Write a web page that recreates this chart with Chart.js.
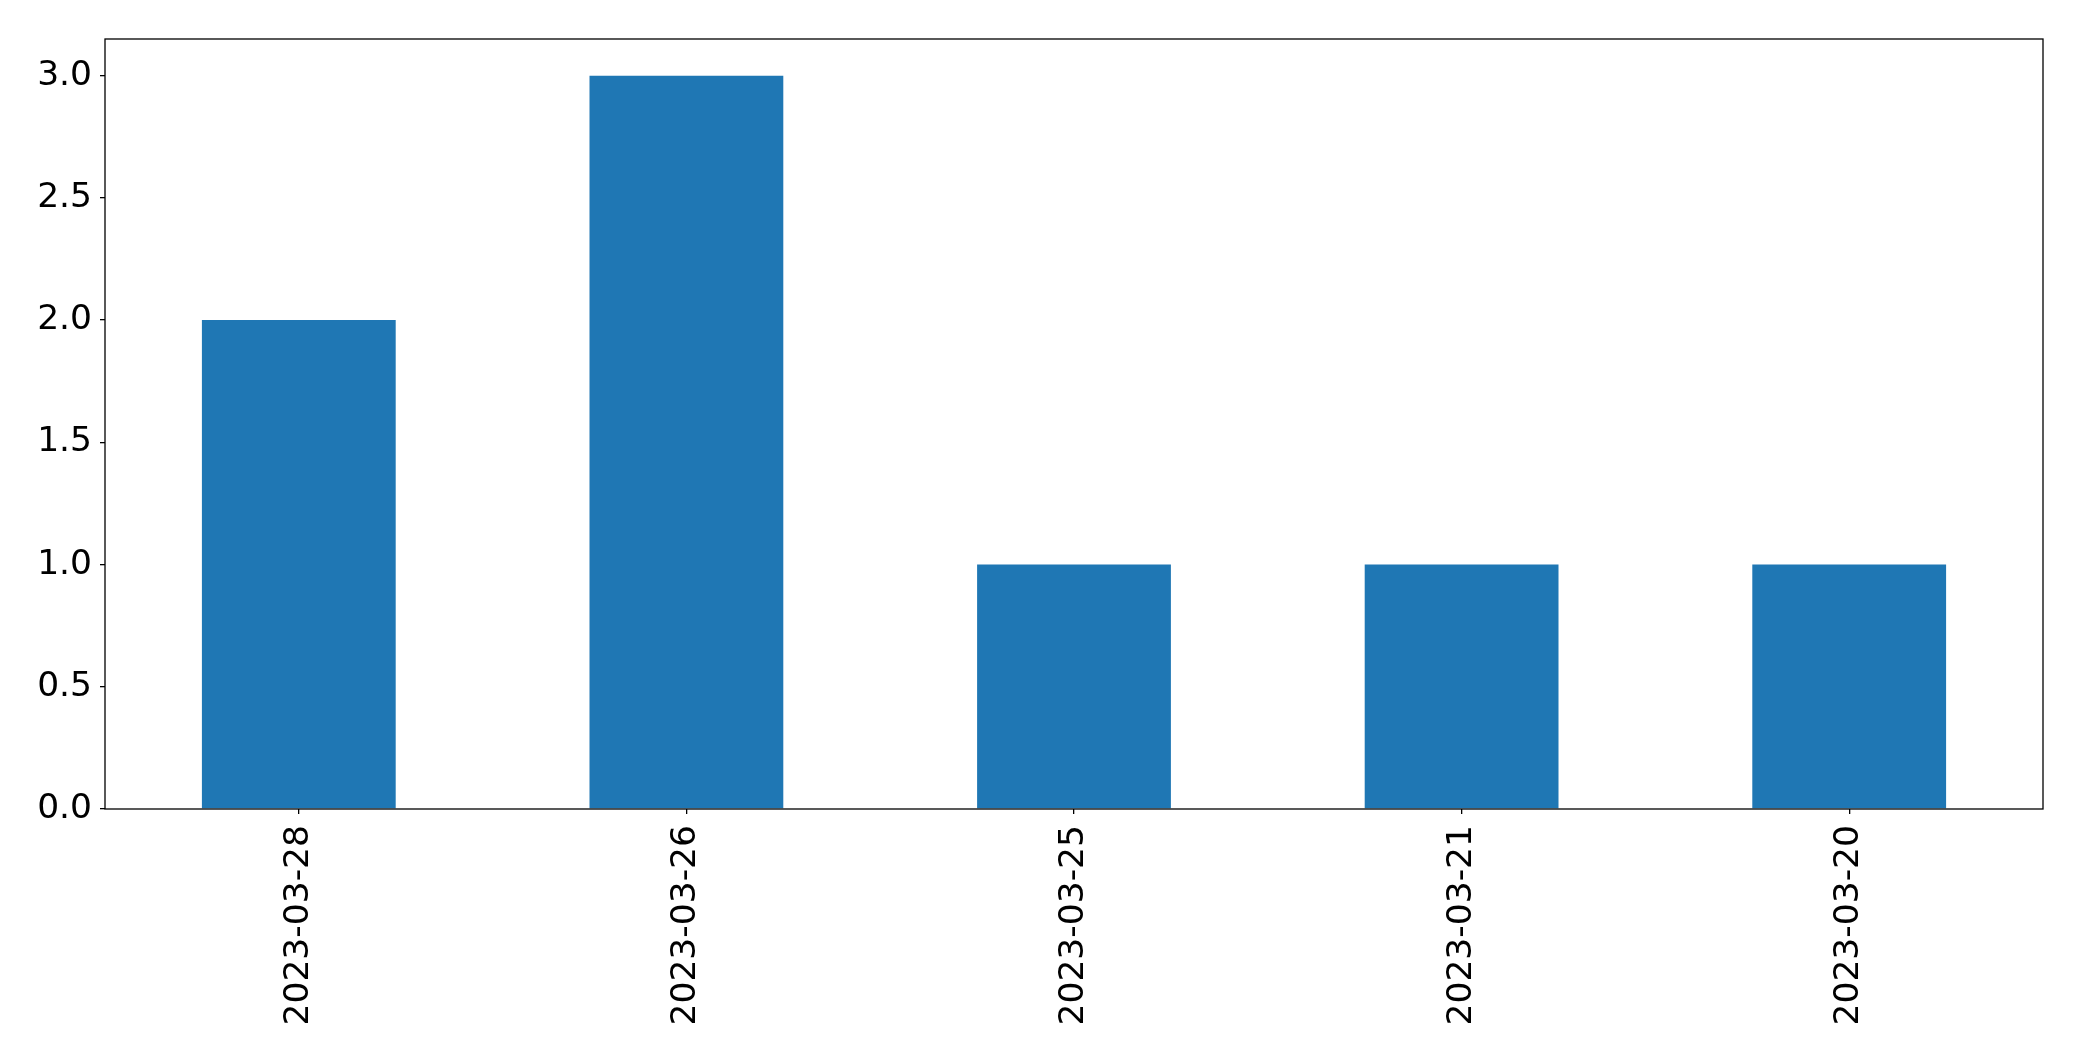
<!DOCTYPE html>
<html>
<head>
<meta charset="utf-8">
<script src="https://cdn.jsdelivr.net/npm/chart.js@4"></script>
<style>
  html, body { margin: 0; padding: 0; background: #fff; }
  #wrap { width: 2082px; height: 1061px; }
</style>
</head>
<body>
<div id="wrap"><canvas id="c" width="2082" height="1061"></canvas></div>
<script>
var categories = ['2023-03-28', '2023-03-26', '2023-03-25', '2023-03-21', '2023-03-20'];
var counts = [2, 3, 1, 1, 1];
var yTicks = [0, 0.5, 1.0, 1.5, 2.0, 2.5, 3.0];

var FONT = { family: 'DejaVu Sans', size: 34.5 };

var frame = {
    id: 'frame',
    afterDraw: function (chart) {
        var a = chart.chartArea;
        var ctx = chart.ctx;
        ctx.save();
        ctx.strokeStyle = '#000';
        ctx.lineWidth = 1.3;
        ctx.strokeRect(a.left, a.top, a.right - a.left, a.bottom - a.top);
        ctx.restore();
    }
};

var ctx = document.getElementById('c').getContext('2d');
new Chart(ctx, {
    type: 'bar',
    data: {
        labels: categories,
        datasets: [{
            data: counts,
            backgroundColor: '#1f77b4',
            borderWidth: 0,
            barPercentage: 0.5,
            categoryPercentage: 1.0
        }]
    },
    options: {
        responsive: false,
        animation: false,
        devicePixelRatio: 1,
        layout: { padding: { left: 0, top: 39, right: 39, bottom: 0 } },
        plugins: {
            legend: { display: false },
            tooltip: { enabled: false }
        },
        scales: {
            x: {
                grid: { display: true, drawOnChartArea: false, offset: false, tickLength: 5, color: '#000', lineWidth: 1.3 },
                border: { display: false },
                ticks: {
                    color: '#000',
                    font: FONT,
                    minRotation: 90,
                    maxRotation: 90,
                    autoSkip: false,
                    padding: 11
                },
                afterFit: function (scale) { scale.height = 252; }
            },
            y: {
                min: 0,
                max: 3.15,
                grid: { display: true, drawOnChartArea: false, tickLength: 5, color: '#000', lineWidth: 1.3 },
                border: { display: false },
                afterBuildTicks: function (scale) {
                    scale.ticks = yTicks.map(function (v) { return { value: v }; });
                },
                ticks: {
                    color: '#000',
                    font: FONT,
                    padding: 8,
                    callback: function (v) { return Number(v).toFixed(1); }
                },
                afterFit: function (scale) { scale.width = 105; }
            }
        }
    },
    plugins: [frame]
});
</script>
</body>
</html>
